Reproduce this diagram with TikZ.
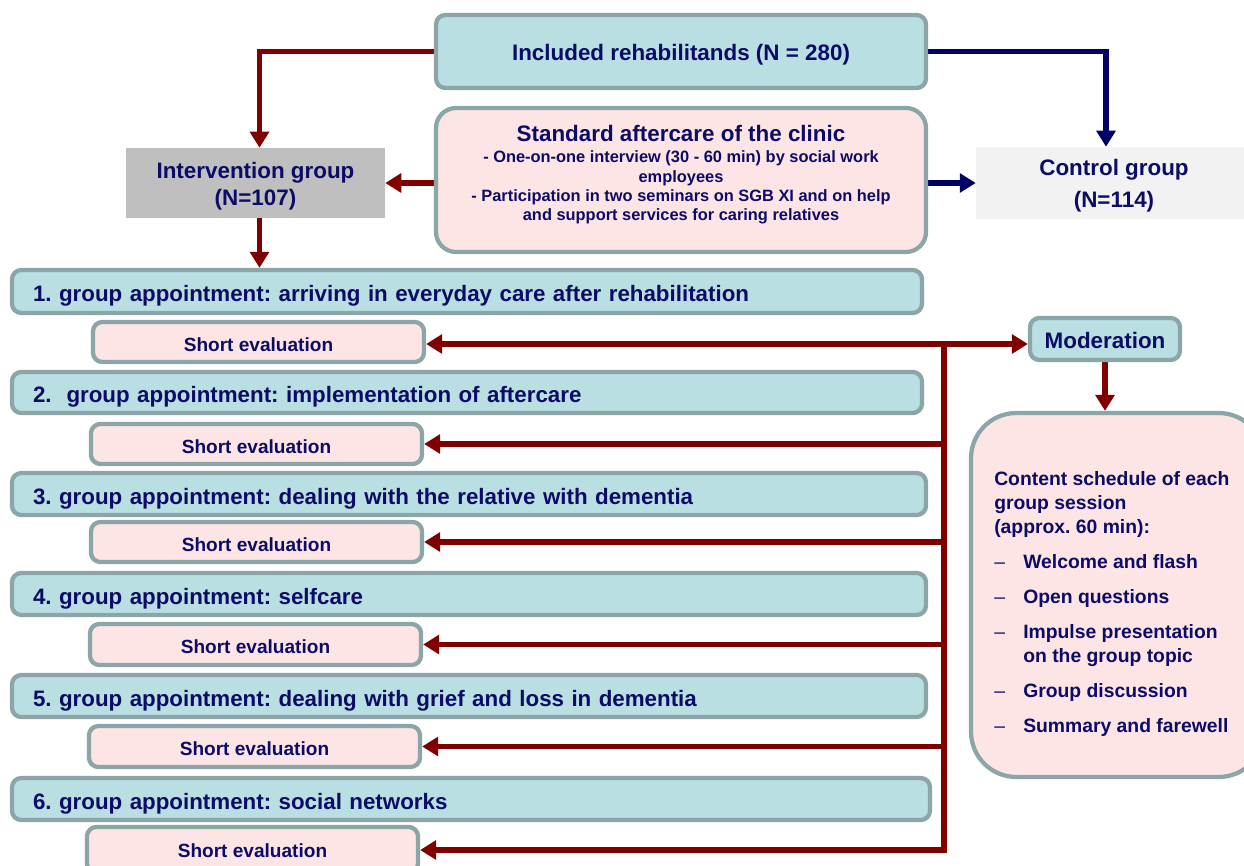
\documentclass[tikz,border=0pt]{standalone}
\usepackage{fontspec}
\setmainfont{Liberation Sans}
\usetikzlibrary{arrows.meta,calc,backgrounds}
\definecolor{navytxt}{RGB}{12,12,102}
\definecolor{tealfill}{RGB}{185,223,226}
\definecolor{bordc}{RGB}{140,166,168}
\definecolor{pinkfill}{RGB}{253,228,229}
\definecolor{darkred}{RGB}{128,0,0}
\definecolor{navyarr}{RGB}{0,0,102}
\definecolor{intgray}{RGB}{191,191,191}
\definecolor{ctrlgray}{RGB}{242,242,242}
\frenchspacing
\begin{document}
\begin{tikzpicture}[x=0.75pt,y=-0.75pt,
  every node/.style={text=navytxt, font=\bfseries},
  area/.style n args={4}{at={({(#1+#3)/2},{(#2+#4)/2})}, anchor=center,
     minimum width={(#3-#1)*0.75pt}, minimum height={(#4-#2)*0.75pt}},
  tbox/.style={draw=bordc, line width=3.2pt, fill=tealfill, rounded corners=7pt, inner sep=0pt},
  pbox/.style={draw=bordc, line width=3.2pt, fill=pinkfill, rounded corners=7pt, inner sep=0pt},
  bigfont/.style={font=\bfseries\fontsize{16.8}{20.25}\selectfont},
  capc/.style={text height=#1, text depth=0pt},
  gbox/.style={tbox, text width=#1, align=left, capc=15.6pt, font=\bfseries\fontsize{16.75}{20}\selectfont},
  sebox/.style={pbox, capc=14pt, font=\bfseries\fontsize{14.3}{17}\selectfont},
  rline/.style={draw=darkred, line width=4pt},
  rarr/.style={rline, -{Triangle[width=14pt,length=12pt]}},
  narr/.style={draw=navyarr, line width=4pt, -{Triangle[width=14pt,length=12pt]}},
]
\useasboundingbox (0,0) rectangle (1244,866);

% top boxes
\node[tbox, bigfont, capc=13pt, area={436}{15}{926}{88}] (inc) {Included rehabilitands (N = 280)};
\node[pbox, rounded corners=15pt, area={436}{108}{926}{252}] (std) {};
\node[align=center, font=\bfseries\fontsize{12.3}{14.6}\selectfont] (stdtxt) at (681,175)
  {{\fontsize{16.8}{20}\selectfont Standard aftercare of the clinic}\\[1pt]
   - One-on-one interview (30 - 60 min) by social work\\
   employees\\
   - Participation in two seminars on SGB XI and on help\\
   and support services for caring relatives};
\node[fill=intgray, inner sep=0pt, area={126}{148}{385}{218}] (inter) {};
\node[bigfont, align=center] (intertxt) at (255.5,186) {Intervention group\\(N=107)};
\node[fill=ctrlgray, inner sep=0pt, area={976}{147}{1252}{219}] (ctrl) {};
\node[align=center, font=\bfseries\fontsize{16.8}{24}\selectfont] (ctrltxt) at (1114,186) {Control group\\(N=114)};

% group appointments
\node[gbox=651pt, area={12}{270}{922}{313}] (g1) {1. group appointment: arriving in everyday care after rehabilitation};
\node[gbox=651pt, area={12}{372}{922}{413}] (g2) {2.\ \ group appointment: implementation of aftercare};
\node[gbox=654pt, area={12}{473}{926}{515}] (g3) {3. group appointment: dealing with the relative with dementia};
\node[gbox=654pt, area={12}{573}{926}{615}] (g4) {4. group appointment: selfcare};
\node[gbox=654pt, area={12}{675}{926}{717}] (g5) {5. group appointment: dealing with grief and loss in dementia};
\node[gbox=657pt, area={12}{778}{930}{820}] (g6) {6. group appointment: social networks};

% short evaluations
\node[sebox, area={93}{322}{424}{362}] (se1) {Short evaluation};
\node[sebox, area={91}{424}{422}{464}] (se2) {Short evaluation};
\node[sebox, area={91}{522}{422}{562}] (se3) {Short evaluation};
\node[sebox, area={90}{624}{421}{665}] (se4) {Short evaluation};
\node[sebox, area={89}{726}{420}{767}] (se5) {Short evaluation};
\node[sebox, capc=11pt, area={87}{827}{418}{873}] (se6) {Short evaluation};

% moderation and content
\node[tbox, bigfont, capc=14pt, area={1030}{318}{1180}{360}] (mod) {Moderation};
\node[pbox, rounded corners=34pt, area={971}{413}{1264}{777}] (cont) {};
\node[align=left, anchor=north west, inner sep=0pt, font=\bfseries\fontsize{14.5}{18}\selectfont] (conttxt) at (994,471)
  {Content schedule of each\\
   group session\\
   (approx. 60 min):\\[8.25pt]
   \makebox[21.75pt][l]{\mdseries\textendash}Welcome and flash\\[8.25pt]
   \makebox[21.75pt][l]{\mdseries\textendash}Open questions\\[8.25pt]
   \makebox[21.75pt][l]{\mdseries\textendash}Impulse presentation\\
   \hspace*{21.75pt}on the group topic\\[8.25pt]
   \makebox[21.75pt][l]{\mdseries\textendash}Group discussion\\[8.25pt]
   \makebox[21.75pt][l]{\mdseries\textendash}Summary and farewell};

\coordinate (j) at (944,344);

\begin{scope}[on background layer]
  \draw[rarr] (inc.west) -| ([xshift=3pt]inter.north);
  \draw[narr] (inc.east) -| ([xshift=-6pt]ctrl.north);
  \draw[rarr] (std.west |- inter.east) -- (inter.east);
  \draw[narr] (std.east |- ctrl.west) -- (ctrl.west);
  \draw[rarr] ([xshift=3pt]inter.south) -- ([xshift=3pt]inter.south |- g1.north);
  \draw[rline, {Triangle[width=14pt,length=12pt]}-{Triangle[width=14pt,length=12pt]}] (se1.east |- j) -- (j -| mod.west);
  \draw[rarr] (j) |- (se6.east);
  \foreach \k in {2,...,5} \draw[rarr] (j |- se\k.east) -- (se\k.east);
  \draw[rarr] (mod.south) -- (mod.south |- cont.north);
\end{scope}
\end{tikzpicture}
\end{document}
